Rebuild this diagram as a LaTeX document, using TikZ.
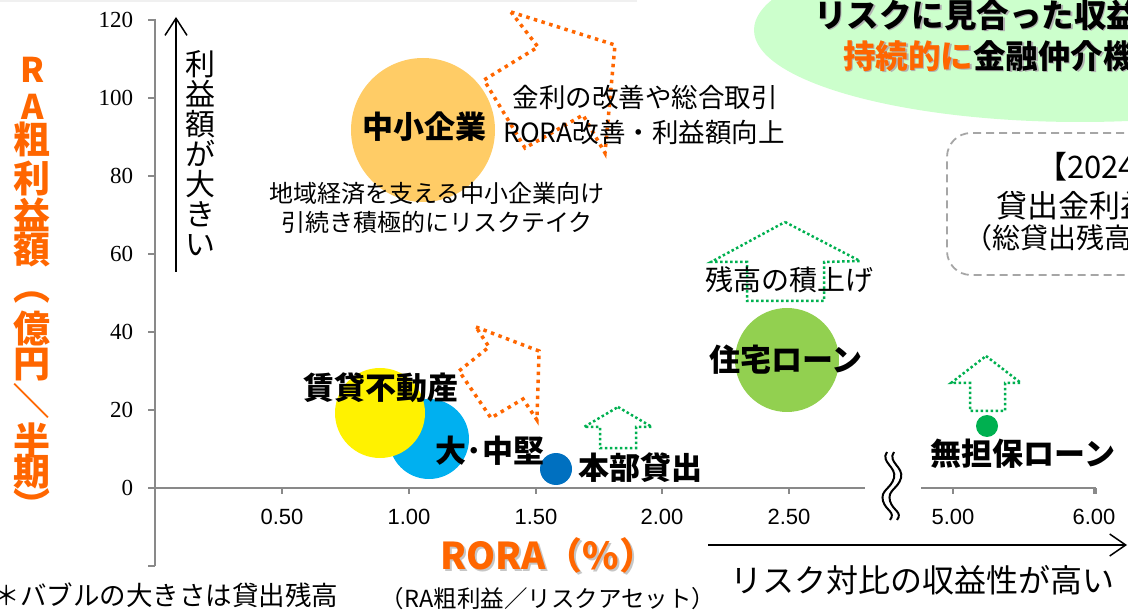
\documentclass[tikz,border=0pt]{standalone}
\usepackage{fontspec}
\setmainfont{Noto Sans CJK JP}
\newfontfamily\arialf{Liberation Sans}
\newfontfamily\serif{Liberation Serif}
\usetikzlibrary{arrows.meta,shapes.geometric}
\definecolor{orng}{RGB}{255,102,0}
\definecolor{smebub}{RGB}{255,204,102}
\definecolor{cyanbub}{RGB}{0,176,240}
\definecolor{bluebub}{RGB}{0,112,192}
\definecolor{limebub}{RGB}{146,208,80}
\definecolor{grnbub}{RGB}{0,176,80}
\definecolor{palegrn}{RGB}{204,255,204}
\definecolor{axisgray}{RGB}{137,137,137}
\newcommand\fsz[1]{\fontsize{#1}{#1}\selectfont}
\begin{document}
\begin{tikzpicture}[x=1pt,y=-1pt,
  txt/.style={inner sep=0pt, outer sep=0pt},
  bub/.style={circle, inner sep=0pt, outer sep=0pt, draw=none},
  lbl/.style={txt, font=\fsz{31}\bfseries},
  orgdot/.style={draw=orng, line width=3.5pt, dash pattern=on 3.5pt off 4.5pt},
  grndot/.style={draw=grnbub, line width=2.5pt, dash pattern=on 2.5pt off 2.5pt},
  axisline/.style={draw=axisgray, line width=1.3pt},
  ylab/.style={txt, text=orng, font=\fsz{37}\bfseries},
  ]
\useasboundingbox (0,0) rectangle (1128,612);
\clip (0,0) rectangle (1128,612);
% faint top line
\fill[gray!12] (0,0) rectangle (637,2);

% goal ellipse
\node[ellipse, fill=palegrn, draw=none, minimum width=652pt, minimum height=184pt, inner sep=0pt] (goal) at (1080,30) {};
\node[txt, anchor=west, font=\fsz{32.5}\bfseries, text=gray!60] (goal1s) at (815.5,16.5) {リスクに見合った収益};
\node[txt, anchor=west, font=\fsz{32.5}\bfseries] (goal1) at (814,15) {リスクに見合った収益};
\node[txt, anchor=west, font=\fsz{32.5}\bfseries, text=gray!60] (goal2s) at (844.5,57.5) {持続的に金融仲介機};
\node[txt, anchor=west, font=\fsz{32.5}\bfseries] (goal2) at (843,56) {\textcolor{orng}{持続的に}金融仲介機};

% dashed note box
\node[draw=gray!70, line width=1.8pt, dash pattern=on 8pt off 5pt, rounded corners=24pt, minimum width=240pt, minimum height=142pt, inner sep=0pt] (note) at (1067,204) {};
\node[txt, anchor=west, font=\fsz{31}] (note1) at (1036,167) {【2024};
\node[txt, anchor=west, font=\fsz{31}] (note2) at (996,206) {貸出金利益};
\node[txt, anchor=west, font=\fsz{28}] (note3) at (964,238) {（総貸出残高比};

% y axis
\draw[axisline] (155,19) -- (155,566);
\draw[axisline] (148,566) -- (155,566);
\foreach \v/\yy in {0/488,20/410,40/332,60/254,80/176,100/98,120/20}{
  \draw[axisline] (148,\yy) -- (155,\yy);
  \node[txt, anchor=east, font=\serif\fsz{23}] (yt\v) at (133,\yy) {\v};
}
% x axis
\draw[axisline] (155,488) -- (865,488);
\draw[axisline] (921,488) -- (1096,488);
\foreach \xx/\t [count=\i] in {282/0.50,409/1.00,536/1.50,662/2.00,789/2.50,953/5.00,1094/6.00}{
  \draw[axisline] (\xx,488) -- (\xx,494);
  \node[txt, font=\arialf\fsz{22}] (xt\i) at (\xx,517) {\t};
}
\draw[axisline] (1096,488) -- (1096,494);
% break mark
\draw[line width=2pt] (887,452) .. controls (880,462) and (897,467) .. (894,478) .. controls (891,489) and (880,490) .. (883,501) .. controls (886,511) and (896,512) .. (890,520);
\draw[line width=2pt] (894,452) .. controls (887,462) and (904,467) .. (901,478) .. controls (898,489) and (887,490) .. (890,501) .. controls (893,511) and (903,512) .. (897,520);

% bubbles
\node[bub, fill=smebub, minimum size=144pt] (sme) at (423,130) {};
\node[bub, fill=cyanbub, minimum size=80pt] (large) at (429,439) {};
\node[bub, fill=yellow, minimum size=90pt] (rent) at (380,413) {};
\node[bub, fill=bluebub, minimum size=32pt] (hq) at (556,469) {};
\node[bub, fill=limebub, minimum size=104pt] (home) at (787,360) {};
\node[bub, fill=grnbub, minimum size=22pt] (unsec) at (987,426) {};

% orange dotted arrows
\draw[orgdot] (511,12) -- (615,45) -- (605,153) -- (583,115) -- (525,148) -- (484,80) -- (538,47) -- cycle;
\draw[orgdot] (476,327) -- (539,351) -- (537,420) -- (523,399) -- (491,418) -- (459,371) -- (489,347) -- cycle;
% green dotted arrows
\draw[grndot] (785,222) -- (860,261) -- (824,262) -- (824,301) -- (747,301) -- (747,262) -- (711,262) -- cycle;
\draw[grndot] (618,407) -- (652,427) -- (636,427) -- (636,448) -- (600,448) -- (600,427) -- (584,427) -- cycle;
\draw[grndot] (986,356) -- (1021,383) -- (1005,383) -- (1005,411) -- (970,411) -- (970,383) -- (951,383) -- cycle;

% bubble labels
\node[lbl] (smeL) at (424,127) {中小企業};
\node[lbl] (rentL) at (381,388) {賃貸不動産};
\node[lbl] (largeL) at (490,451) {大･中堅};
\node[lbl] (hqL) at (640,468) {本部貸出};
\node[lbl] (homeL) at (786,360) {住宅ローン};
\node[lbl] (unsecL) at (1023,454) {無担保ローン};

% annotations
\node[txt, font=\fsz{26.5}] (t1) at (645,97) {金利の改善や総合取引};
\node[txt, font=\fsz{26.5}] (t2) at (644,132) {RORA改善・利益額向上};
\node[txt, font=\fsz{24}] (t3) at (437,193) {地域経済を支える中小企業向け};
\node[txt, font=\fsz{24}] (t4) at (437,222) {引続き積極的にリスクテイク};
\node[txt, font=\fsz{28}] (t5) at (789,280) {残高の積上げ};

% vertical axis hint
\coordinate (upS) at (176,272);
\coordinate (upE) at (176,17);
\draw[line width=1.5pt, -{Straight Barb[length=17pt,width=22pt]}] (upS) -- (upE);
\node[txt, font=\fsz{30}, align=center] (upT) at (200,153) {\fontsize{30}{31.4}\selectfont 利\\益\\額\\が\\大\\き\\い};

% horizontal axis hint
\coordinate (rtS) at (708,545);
\coordinate (rtE) at (1127,545);
\draw[line width=1.5pt, -{Straight Barb[length=16pt,width=22pt]}] (rtS) -- (rtE);
\node[txt, font=\fsz{32}] (rtT) at (922,580) {リスク対比の収益性が高い};

% axis titles
\node[txt, font=\fsz{37}\bfseries, text=gray!45] (xtitS) at (550,557) {RORA（\%）};
\node[txt, font=\fsz{37}\bfseries, text=orng] (xtit) at (548,555) {RORA（\%）};
\node[txt, font=\fsz{23.5}] (xsub) at (548,599) {（RA粗利益／リスクアセット）};
\node[txt, anchor=west, font=\fsz{26.5}] (foot) at (-6,595) {＊バブルの大きさは貸出残高};

% y title (vertical, orange)
\node[ylab, font=\fsz{34}\bfseries] (yl1) at (33,70) {R};
\node[ylab, font=\fsz{34}\bfseries] (yl2) at (33,107) {A};
\node[ylab] (yl3) at (32,139) {粗};
\node[ylab] (yl4) at (32,178) {利};
\node[ylab] (yl5) at (32,215) {益};
\node[ylab] (yl6) at (32,250) {額};
\node[ylab] (yl7) at (32,298) {︵};
\node[ylab] (yl8) at (32,328) {億};
\node[ylab] (yl9) at (32,365) {円};
\node[ylab, rotate=-90] (yl10) at (32,401) {／};
\node[ylab] (yl11) at (32,440) {半};
\node[ylab] (yl12) at (32,472) {期};
\node[ylab] (yl13) at (32,504) {︶};
\end{tikzpicture}
\end{document}
